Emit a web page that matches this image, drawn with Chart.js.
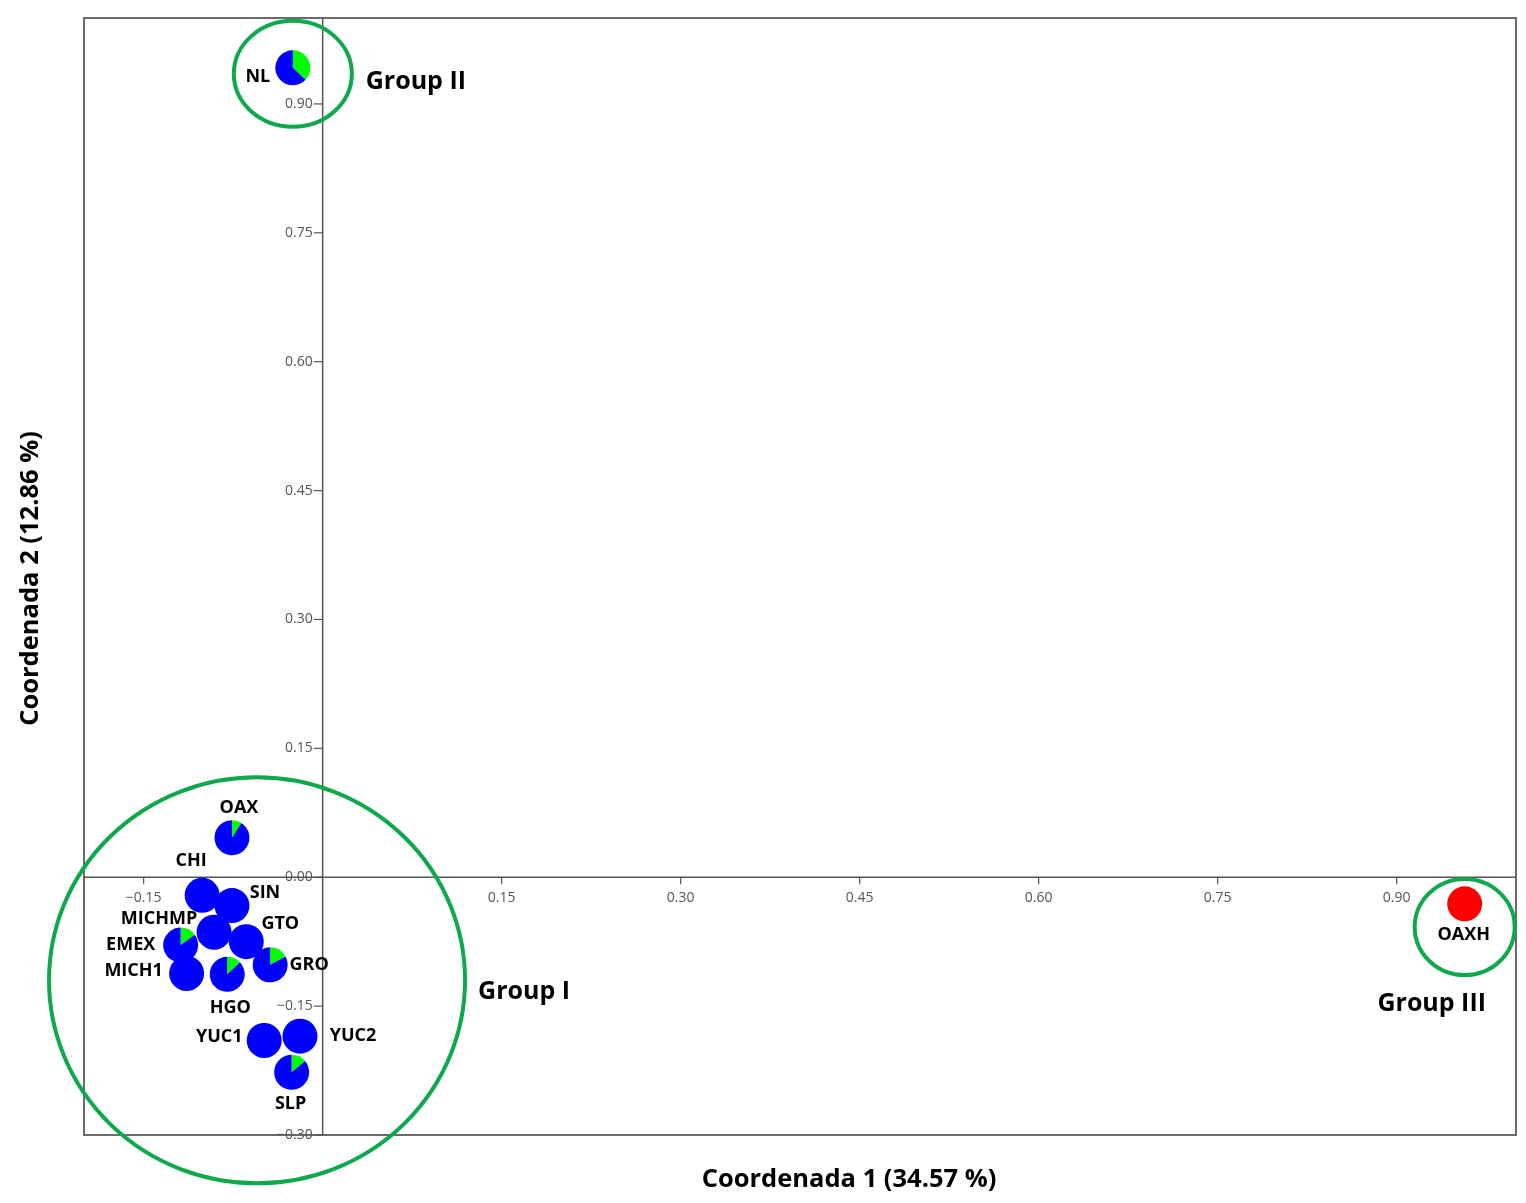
<!DOCTYPE html>
<html>
<head>
<meta charset="utf-8">
<title>PCoA</title>
<script src="https://cdn.jsdelivr.net/npm/chart.js@4.4.1/dist/chart.umd.min.js"></script>
<style>
  html, body { margin: 0; padding: 0; background: #fff; overflow: hidden; }
  canvas { display: block; }
</style>
</head>
<body>
<canvas id="myChart" width="1526" height="1203"></canvas>
<script>
// populations and their coordinates
var names = ["NL", "OAX", "CHI", "SIN", "MICHMP", "GTO", "EMEX", "MICH1", "HGO", "GRO", "YUC1", "YUC2", "SLP", "OAXH"];
var coord1 = [-0.025, -0.076, -0.101, -0.076, -0.091, -0.064, -0.119, -0.114, -0.080, -0.044, -0.049, -0.019, -0.026, 0.957];
var coord2 = [0.942, 0.046, -0.021, -0.033, -0.064, -0.075, -0.079, -0.112, -0.113, -0.102, -0.190, -0.185, -0.227, -0.031];
// share of each ancestry in the pie (blue, green, red)
var blueShare = [0.63, 0.91, 1, 1, 1, 1, 0.85, 1, 0.87, 0.83, 1, 1, 0.86, 0];
var greenShare = [0.37, 0.09, 0, 0, 0, 0, 0.15, 0, 0.13, 0.17, 0, 0, 0.14, 0];
var redShare = [0, 0, 0, 0, 0, 0, 0, 0, 0, 0, 0, 0, 0, 1];

var xTicks = [-0.15, 0.15, 0.30, 0.45, 0.60, 0.75, 0.90];
var yTicks = [-0.30, -0.15, 0.00, 0.15, 0.30, 0.45, 0.60, 0.75, 0.90];

// groups (centre in coordinate units)
var groupNames = ["Group I", "Group II", "Group III"];
var groupX = [-0.055, -0.025, 0.957];
var groupY = [-0.120, 0.935, -0.058];

// where the labels go, in px from the pie centre
var labelShift = {
	NL: [-35, 9], OAX: [7, -30], CHI: [-11, -34], SIN: [33, -13], MICHMP: [-55, -13],
	GTO: [34, -18], EMEX: [-50, 0], MICH1: [-53, -3], HGO: [3, 34], GRO: [39, 0],
	YUC1: [-45, -4], YUC2: [53, 0], SLP: [-1, 32], OAXH: [-1, 31]
};
var groupShape = [
	{ rx: 208, ry: 203, text: [267, 12] },
	{ rx: 59, ry: 53, text: [123, 8] },
	{ rx: 50, ry: 48, text: [-33, 77] }
];

var pieColors = ["#0000ff", "#00ff00", "#ff0000"];
var ringColor = "#0fa84c";
var axisColor = "#555";
var BOLD = "'Open Sans', 'DejaVu Sans', sans-serif";
var TICKFONT = "14px 'Open Sans', sans-serif";

function fmt(v) {
	var s = Math.abs(v).toFixed(2);
	return v < 0 ? "\u2212" + s : s;
}

var pointData = [];
for (var i = 0; i < names.length; i++) {
	pointData.push({ x: coord1[i], y: coord2[i] });
}

// frame + axes crossing at (0, 0), drawn from the chart's own scales
var axesPlugin = {
	id: "crossAxes",
	beforeDatasetsDraw: function (chart) {
		var c = chart.ctx;
		var ca = chart.chartArea;
		var xs = chart.scales.x, ys = chart.scales.y;
		var x0 = xs.getPixelForValue(0);
		var y0 = ys.getPixelForValue(0);
		c.save();
		c.strokeStyle = "#6b6b6b";
		c.lineWidth = 2;
		c.strokeRect(ca.left, ca.top, ca.right - ca.left, ca.bottom - ca.top);

		c.strokeStyle = axisColor;
		c.lineWidth = 1.5;
		c.beginPath();
		c.moveTo(ca.left, y0);
		c.lineTo(ca.right, y0);
		c.moveTo(x0, ca.top);
		c.lineTo(x0, ca.bottom);
		c.stroke();

		c.fillStyle = axisColor;
		c.font = TICKFONT;
		c.lineWidth = 1.2;
		// x ticks: marks below the line, labels under them
		c.textAlign = "center";
		c.textBaseline = "middle";
		xTicks.forEach(function (v) {
			var px = xs.getPixelForValue(v);
			c.beginPath();
			c.moveTo(px, y0);
			c.lineTo(px, y0 + 7);
			c.stroke();
			c.fillText(fmt(v), px, y0 + 21);
		});
		// y ticks: marks to the left, labels right-aligned
		c.textAlign = "right";
		yTicks.forEach(function (v) {
			var py = ys.getPixelForValue(v);
			c.beginPath();
			c.moveTo(x0 - 9, py);
			c.lineTo(x0, py);
			c.stroke();
			c.fillText(fmt(v), x0 - 10, py);
		});
		c.restore();
	},
	afterDatasetsDraw: function (chart) {
		var c = chart.ctx;
		var meta = chart.getDatasetMeta(0);
		var xs = chart.scales.x, ys = chart.scales.y;
		c.save();
		meta.data.forEach(function (pt, i) {
			var r = pt.options.radius;
			var shares = [blueShare[i], greenShare[i], redShare[i]];
			// green wedge starts at 12 o'clock going clockwise, blue fills the rest
			var order = [1, 2, 0];
			var a = -Math.PI / 2;
			order.forEach(function (k) {
				if (shares[k] <= 0) return;
				var b = a + shares[k] * Math.PI * 2;
				c.beginPath();
				c.moveTo(pt.x, pt.y);
				c.arc(pt.x, pt.y, r, a, b);
				c.closePath();
				c.fillStyle = pieColors[k];
				c.fill();
				a = b;
			});
		});
		// population labels
		c.fillStyle = "#000";
		c.font = "bold 18px " + BOLD;
		c.textAlign = "center";
		c.textBaseline = "middle";
		meta.data.forEach(function (pt, i) {
			var s = labelShift[names[i]];
			c.fillText(names[i], pt.x + s[0], pt.y + s[1]);
		});
		// group rings
		c.strokeStyle = ringColor;
		c.lineWidth = 4;
		c.font = "bold 25px " + BOLD;
		for (var g = 0; g < groupNames.length; g++) {
			var cx = xs.getPixelForValue(groupX[g]);
			var cy = ys.getPixelForValue(groupY[g]);
			var sh = groupShape[g];
			c.beginPath();
			c.ellipse(cx, cy, sh.rx, sh.ry, 0, 0, Math.PI * 2);
			c.stroke();
			c.fillText(groupNames[g], cx + sh.text[0], cy + sh.text[1]);
		}
		c.restore();
	},
	afterDraw: function (chart) {
		var c = chart.ctx;
		var ca = chart.chartArea;
		c.save();
		c.fillStyle = "#000";
		c.font = "bold 25.5px " + BOLD;
		c.textAlign = "center";
		c.textBaseline = "middle";
		c.fillText("Coordenada 1 (34.57 %)", 849, 1180);
		c.translate(31, (ca.top + ca.bottom) / 2 + 2);
		c.rotate(-Math.PI / 2);
		c.fillText("Coordenada 2 (12.86 %)", 0, 0);
		c.restore();
	}
};

var ctx = document.getElementById("myChart").getContext("2d");
var myChart = new Chart(ctx, {
	type: "scatter",
	data: {
		datasets: [
			{
				label: "pops",
				data: pointData,
				pointRadius: 17.5,
				pointHoverRadius: 17.5,
				backgroundColor: "rgba(0,0,0,0)",
				borderColor: "rgba(0,0,0,0)",
			},
		],
	},
	options: {
		responsive: false,
		animation: false,
		events: [],
		// big pie markers would otherwise widen the padding
		layout: { autoPadding: false, padding: { left: 84, top: 18, right: 10, bottom: 68 } },
		plugins: { legend: { display: false }, tooltip: { enabled: false } },
		scales: {
			x: { type: "linear", display: false, min: -0.2, max: 1.0 },
			y: { type: "linear", display: false, min: -0.3, max: 1.0 },
		},
	},
	plugins: [axesPlugin],
});
</script>
</body>
</html>
